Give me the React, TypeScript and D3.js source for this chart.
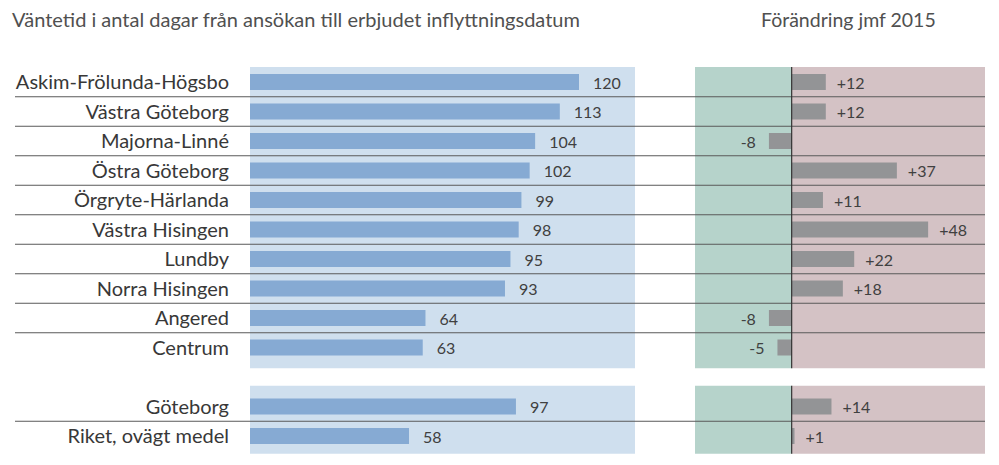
import React from "react";
import * as d3 from "d3";

const categories = [
  "Askim-Frölunda-Högsbo",
  "Västra Göteborg",
  "Majorna-Linné",
  "Östra Göteborg",
  "Örgryte-Härlanda",
  "Västra Hisingen",
  "Lundby",
  "Norra Hisingen",
  "Angered",
  "Centrum",
];
const summaryCategories = ["Göteborg", "Riket, ovägt medel"];
const waitDays = [120, 113, 104, 102, 99, 98, 95, 93, 64, 63];
const summaryWaitDays = [97, 58];
const changeVs2015 = [12, 12, -8, 37, 11, 48, 22, 18, -8, -5];
const summaryChange = [14, 1];

const titleLeft = "Väntetid i antal dagar från ansökan till erbjudet inflyttningsdatum";
const titleRight = "Förändring jmf 2015";

const W = 999;
const H = 465;
const FONT = "Lato, 'Open Sans', sans-serif";

type Row = { name: string; value: number; change: number; group: number };

export default function App() {
  const rows: Row[] = [
    ...categories.map((c, i) => ({ name: c, value: waitDays[i], change: changeVs2015[i], group: 0 })),
    ...summaryCategories.map((c, i) => ({ name: c, value: summaryWaitDays[i], change: summaryChange[i], group: 1 })),
  ];
  const slots = [...categories, "__gap__", ...summaryCategories];
  const y = d3.scaleBand<string>().domain(slots).range([67.25, 67.25 + 29.5 * slots.length]).padding(0);
  const step = y.step();
  const barH = 16;

  const x = d3.scaleLinear().domain([0, 120]).range([250, 579]);
  const xc = d3.scaleLinear().domain([-34, 68]).range([695, 985]);

  const groups = [categories, summaryCategories].map((g) => {
    const top = y(g[0])!;
    const bottom = y(g[g.length - 1])! + step;
    return { top, bottom, names: g };
  });
  const groupBg = [
    { top: groups[0].top - 0.25, bottom: groups[0].bottom + 6 },
    { top: groups[1].top - 6, bottom: groups[1].bottom + 3 },
  ];

  const separators: number[] = [];
  groups.forEach((g) => {
    g.names.slice(1).forEach((n) => separators.push(y(n)!));
  });

  return (
    <svg width={W} height={H} style={{ display: "block", position: "absolute", left: 0, top: 0 }}>
      <rect x={0} y={0} width={W} height={H} fill="#fff" />
      <text x={12} y={27} fontFamily={FONT} fontSize={20} fill="#505050">
        {titleLeft}
      </text>
      <text x={761} y={27} fontFamily={FONT} fontSize={19.5} fill="#505050">
        {titleRight}
      </text>
      {groupBg.map((g, i) => (
        <g key={i}>
          <rect x={x(0)} y={g.top} width={635 - x(0)} height={g.bottom - g.top} fill="#cfdfee" />
          <rect x={xc.range()[0]} y={g.top} width={xc(0) - xc.range()[0]} height={g.bottom - g.top} fill="#b6d3cb" />
          <rect x={xc(0)} y={g.top} width={xc.range()[1] - xc(0)} height={g.bottom - g.top} fill="#d4c2c5" />
        </g>
      ))}
      {separators.map((sy, i) => (
        <line key={i} x1={15} x2={985} y1={sy} y2={sy} stroke="#5a5a5a" strokeWidth={1} />
      ))}
      {rows.map((r) => {
        const cy = y(r.name)! + step / 2;
        const cx0 = xc(0);
        const cx1 = xc(r.change);
        return (
          <g key={r.name}>
            <text x={229} y={cy} dy="0.35em" textAnchor="end" fontFamily={FONT} fontSize={20} fill="#383838">
              {r.name}
            </text>
            <rect x={x(0)} y={cy - barH / 2} width={x(r.value) - x(0)} height={barH} fill="#86aad3" />
            <text x={x(r.value) + 14} y={cy + 1} dy="0.35em" fontFamily={FONT} fontSize={16} fill="#404040">
              {r.value}
            </text>
            <rect x={Math.min(cx0, cx1)} y={cy - barH / 2} width={Math.abs(cx1 - cx0)} height={barH} fill="#939496" />
            {r.change >= 0 ? (
              <text x={cx1 + 11} y={cy + 1} dy="0.35em" fontFamily={FONT} fontSize={16} fill="#404040">
                {"+" + r.change}
              </text>
            ) : (
              <text x={cx1 - 13} y={cy + 1} dy="0.35em" textAnchor="end" fontFamily={FONT} fontSize={16} fill="#404040">
                {String(r.change)}
              </text>
            )}
          </g>
        );
      })}
      {groupBg.map((g, i) => (
        <line key={"z" + i} x1={xc(0)} x2={xc(0)} y1={g.top} y2={g.bottom} stroke="#333" strokeWidth={1.2} />
      ))}
    </svg>
  );
}
